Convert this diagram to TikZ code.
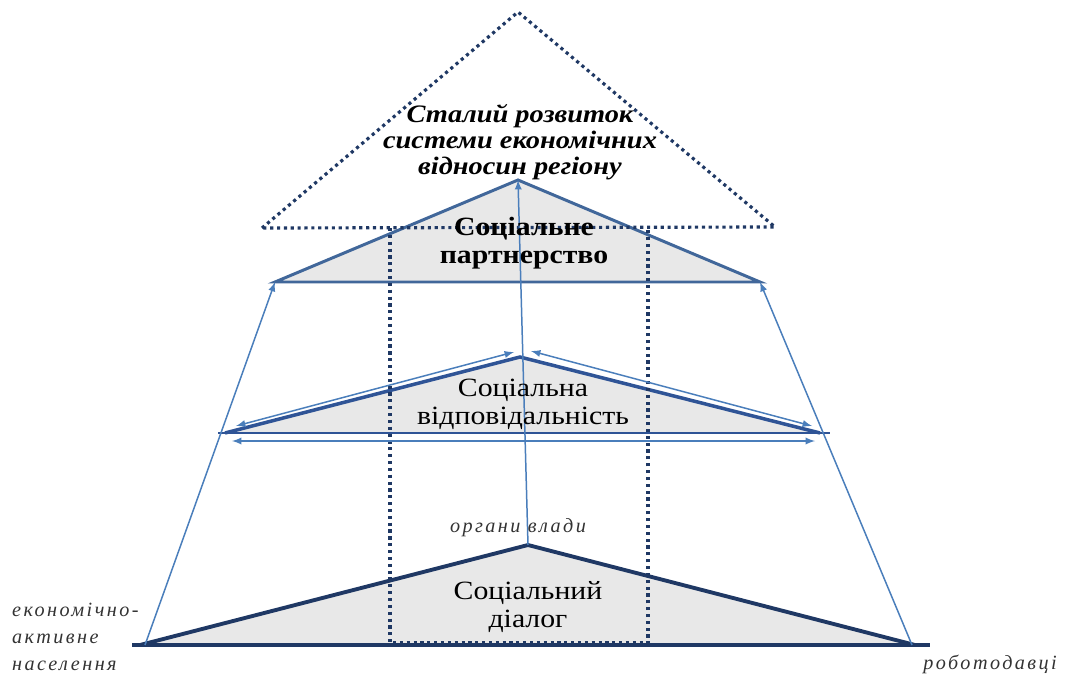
\documentclass[tikz,border=0pt]{standalone}
\usepackage{fontspec}
\setmainfont{Liberation Serif}[FakeStretch=1.13]
\newfontfamily\spacedfont[LetterSpace=12]{Liberation Serif}
\usetikzlibrary{arrows}
\definecolor{navy}{HTML}{1F3864}
\definecolor{midblue}{HTML}{2F5496}
\definecolor{steel}{HTML}{41679A}
\definecolor{thinblue}{HTML}{4A7EBB}
\definecolor{tfill}{HTML}{E8E8E8}
\definecolor{labgray}{HTML}{333333}
\tikzset{
	level/.style  = {fill=tfill, line join=miter},
	dots/.style   = {draw=navy, line width=1.8pt, dash pattern=on 1.8pt off 2.1pt},
	link/.style   = {draw=thinblue, line width=0.85pt},
	title/.style  = {align=center, font=\fontsize{15}{15.8}\selectfont},
	side/.style   = {align=left, text=labgray, font=\spacedfont\itshape\fontsize{11.5}{15.5}\selectfont}
}
\newcommand{\goaltext}{\bfseries\itshape Сталий розвиток\\ \bfseries\itshape системи економічних\\ \bfseries\itshape відносин регіону}

\begin{document}
\begin{tikzpicture}[x=0.02cm, y=-0.02cm, >=latex]
\useasboundingbox (0,0) rectangle (1065,676);
% vertices of the levels
\coordinate (g1) at (262,228);
\coordinate (g2) at (518,12);
\coordinate (g3) at (775,227);
\coordinate (p1) at (275,282);
\coordinate (p2) at (518,180);
\coordinate (p3) at (760,282);
\coordinate (r1) at (225,433);
\coordinate (r2) at (520,357);
\coordinate (r3) at (820,433);
\coordinate (d1) at (140,645);
\coordinate (d2) at (528,545);
\coordinate (d3) at (915,645);

% filled levels
\draw[level, draw=steel, line width=1.7pt] (p1) -- (p2) -- (p3) -- cycle;
\draw[level, draw=midblue, line width=2pt] (r1) -- (r2) -- (r3);
\draw[midblue, line width=1.6pt] (218,433) -- (830,433);
\draw[level, draw=navy, line width=2.2pt] (d1) -- (d2) -- (d3);
\draw[navy, line width=1.8pt] (132,645) -- (930,645);

% dotted goal and frame
\draw[dots] (g1) -- (g2) -- (g3) -- cycle;
\draw[dots] (390,228) -- (390,643) -- (648,643) -- (648,228);

% links between levels
\draw[link, ->] (145,645) -- (p1);
\draw[link, ->] (912,645) -- (p3);
\draw[link, ->] (d2) -- (p2);

% two-way arrows of the middle level
\coordinate (a1) at (236,426);
\coordinate (a2) at (514,352);
\coordinate (a3) at (531,351);
\coordinate (a4) at (812,426);
\coordinate (a5) at (232,441);
\coordinate (a6) at (815,441);
\draw[link, <->] (a1) -- (a2);
\draw[link, <->] (a3) -- (a4);
\draw[link, <->] (a5) -- (a6);

% labels
\draw
node at (520,142) [title, font=\fontsize{14.3}{14.8}\selectfont] (goal) {\goaltext}
node at (524,243) [title] (partner) {\bfseries Соціальне\\ \bfseries партнерство}
node at (523,404) [title] (resp) {Соціальна\\ відповідальність}
node at (528,607) [title] (dialog) {Соціальний\\ діалог}
node at (518,528) [side] (gov) {органи влади}
node at (6,637) [side, anchor=west] (popul) {економічно-\\активне\\населення}
node at (1063,664) [side, anchor=east] (empl) {роботодавці};
\end{tikzpicture}
\end{document}
